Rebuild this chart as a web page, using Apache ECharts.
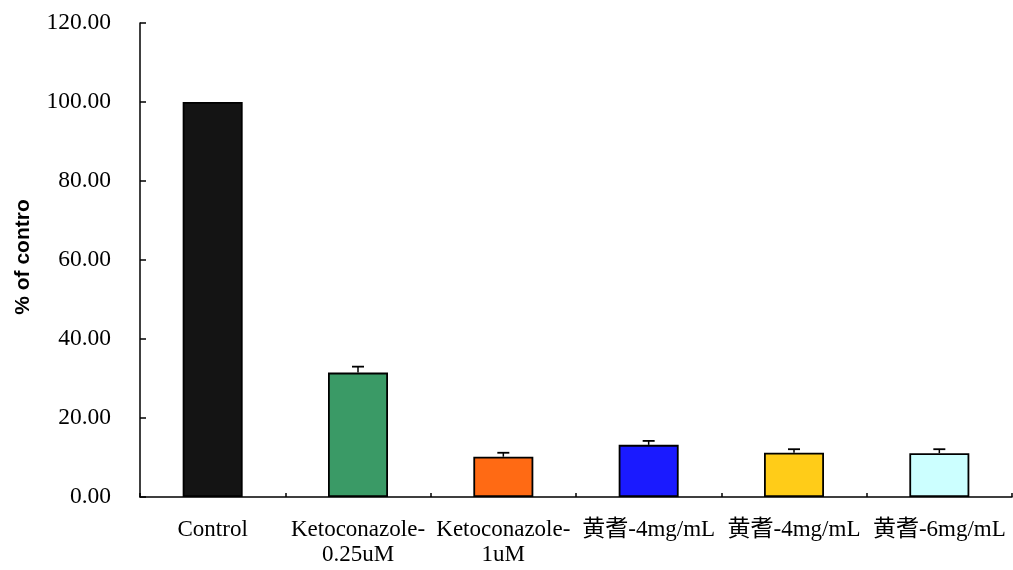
<!DOCTYPE html>
<html><head><meta charset="utf-8">
<script src="https://cdn.jsdelivr.net/npm/echarts@6/dist/echarts.min.js"></script>
<style>html,body{margin:0;padding:0;background:#fff}#c{width:1013px;height:570px}</style>
</head><body><div id="c"></div>
<script>
const categories = ["Control", "Ketoconazole-\n0.25uM", "Ketoconazole-\n1uM", "黄耆-4mg/mL", "黄耆-4mg/mL", "黄耆-6mg/mL"];
const values = [100.0, 31.5, 10.2, 13.2, 11.2, 11.1];
const errors = [0, 1.5, 1.0, 1.0, 0.9, 1.0];
const colors = ["#141414", "#3a9a66", "#ff6a14", "#1a1aff", "#ffcc18", "#ccffff"];
const yTicks = [0, 20, 40, 60, 80, 100, 120];

const serif = "'Liberation Serif', 'Noto Sans CJK SC', serif";
const chart = echarts.init(document.getElementById('c'));
chart.setOption({
  animation: false,
  grid: {left: 140, right: 1, top: 23, bottom: 73, containLabel: false},
  xAxis: {
    type: 'category', data: categories,
    axisLine: {lineStyle: {color: '#000', width: 1.5}},
    axisTick: {show: true, inside: true, length: 4, lineStyle: {color: '#000', width: 1.5}},
    axisLabel: {color: '#000', fontFamily: serif, fontSize: 23, margin: 20, lineHeight: 25, interval: 0}
  },
  yAxis: {
    type: 'value', min: yTicks[0], max: yTicks[yTicks.length-1], interval: 20,
    name: '% of contro', nameLocation: 'middle', nameGap: 106,
    nameTextStyle: {fontFamily: "'Liberation Sans', Arial, sans-serif", fontWeight: 'bold', fontSize: 21, color: '#000', padding: [0, 0, 0, 6]},
    axisLine: {show: true, lineStyle: {color: '#000', width: 1.5}},
    axisTick: {show: true, inside: true, length: 6, lineStyle: {color: '#000', width: 1.5}},
    splitLine: {show: false},
    axisLabel: {color: '#000', fontFamily: serif, fontSize: 23.5, margin: 29, formatter: v => v.toFixed(2)}
  },
  series: [
    {
      type: 'bar', barWidth: 60,
      data: values.map((v, i) => ({value: v, itemStyle: {color: colors[i], borderColor: '#000', borderWidth: 1.8}}))
    },
    {
      type: 'custom', z: 5,
      renderItem: function (params, api) {
        const i = api.value(0);
        const v = api.value(1), e = api.value(2);
        if (!e) return;
        const p0 = api.coord([i, v]);
        const p1 = api.coord([i, v + e]);
        const hw = 6;
        return {type: 'group', children: [
          {type: 'line', shape: {x1: p0[0], y1: p0[1], x2: p1[0], y2: p1[1]}, style: {stroke: '#000', lineWidth: 1.5}},
          {type: 'line', shape: {x1: p1[0]-hw, y1: p1[1], x2: p1[0]+hw, y2: p1[1]}, style: {stroke: '#000', lineWidth: 1.8}}
        ]};
      },
      data: values.map((v, i) => [i, v, errors[i]])
    }
  ]
});
</script></body></html>
